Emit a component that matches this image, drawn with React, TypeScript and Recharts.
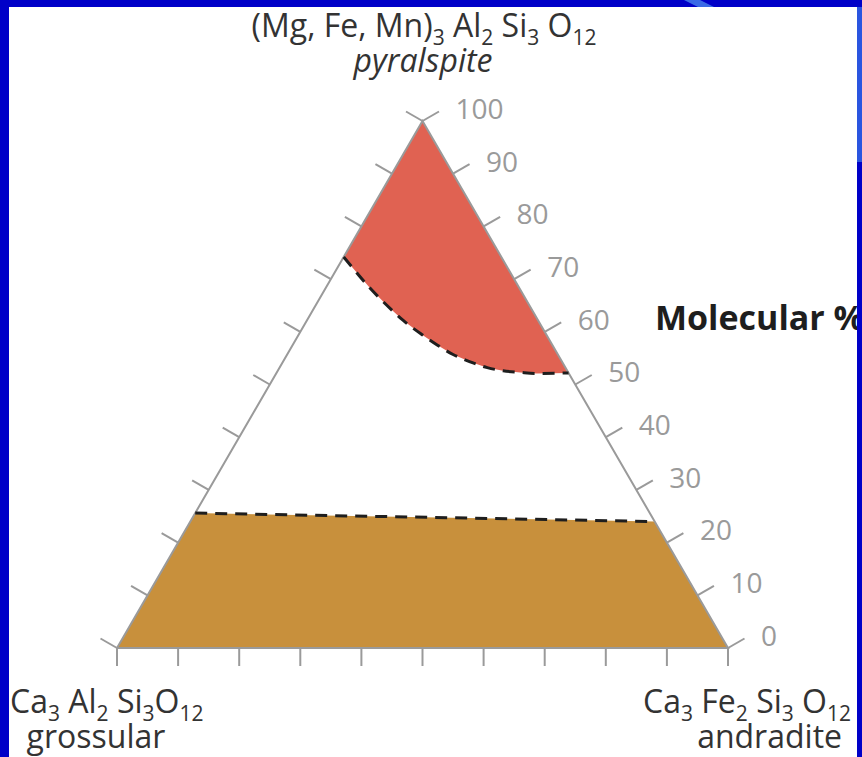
import { ComposedChart, XAxis, YAxis, Area, Line, Scatter } from 'recharts';

// ternary garnet diagram, x = position along the base (%), y = pyralspite mol %
const molecularTicks = [0, 10, 20, 30, 40, 50, 60, 70, 80, 90, 100];
const baseTicks = [0, 10, 20, 30, 40, 50, 60, 70, 80, 90, 100];

// pyralspite field, lower (dashed) boundary
const pyrCurveBase = [37.1, 38.6, 41.4, 44.2, 46.8, 50, 52.4, 55.0, 57.8, 60.6, 63.2, 66.0, 68.7, 73.9];
const pyrCurvePct = [74.2, 72.1, 68.3, 65.0, 62.2, 59.4, 57.5, 55.7, 54.3, 53.2, 52.6, 52.3, 52.1, 52.2];

// ugrandite band (grossular - andradite), top edge is dashed
const bandBase = [0, 12.8, 88.0, 100];
const bandPct = [0, 25.6, 24.0, 0];

const W = 862;
const H = 757;
const GRAY = '#9a9a9a';
const FONT = '"Open Sans", "DejaVu Sans", sans-serif';

const edge = (x: number) => (x <= 50 ? 2 * x : 2 * (100 - x));

const outline = [
  { x: 0, y: 0 },
  { x: 50, y: 100 },
  { x: 100, y: 0 },
  { x: 0, y: 0 },
];
const pyrField = pyrCurveBase.map((x, i) => ({ x, range: [pyrCurvePct[i], edge(x)], y: pyrCurvePct[i] }));
const band = bandBase.map((x, i) => ({ x, y: bandPct[i] }));
const bandTop = band.slice(1, 3);

const rightTicks = molecularTicks.map(p => ({ x: 100 - p / 2, y: p, label: p }));
const leftTicks = molecularTicks.map(p => ({ x: p / 2, y: p }));
const bottomTicks = baseTicks.map(x => ({ x, y: 0 }));

const RightTick = (p: any) => (
  <g>
    <line x1={p.cx} y1={p.cy} x2={p.cx + 16.5} y2={p.cy - 9.5} stroke={GRAY} strokeWidth={2} />
    <text x={p.cx + 33} y={p.cy - 12} dy="0.35em" fontSize={28} fill={GRAY} fontFamily={FONT}>
      {p.payload.label}
    </text>
  </g>
);
const LeftTick = (p: any) => (
  <line x1={p.cx} y1={p.cy} x2={p.cx - 16.5} y2={p.cy - 9.5} stroke={GRAY} strokeWidth={2} />
);
const BottomTick = (p: any) => (
  <line x1={p.cx} y1={p.cy} x2={p.cx} y2={p.cy + 18} stroke={GRAY} strokeWidth={2} />
);

// formula pieces: plain text and subscripts
type Piece = [string, boolean?];
const formula = (pieces: Piece[]) => {
  let down = false;
  return pieces.map(([t, isSub], i) => {
    const dy = isSub ? (down ? 0 : 8) : down ? -8 : 0;
    down = !!isSub;
    return (
      <tspan key={i} dy={dy} fontSize={isSub ? 21 : 32}>
        {t}
      </tspan>
    );
  });
};

export default function App() {
  return (
    <div style={{ position: 'fixed', left: 0, top: 0, width: W, height: H, background: '#ffffff', overflow: 'hidden' }}>
      <ComposedChart
        width={W}
        height={H}
        margin={{ top: 121, right: 134, bottom: 109, left: 117 }}
        style={{ position: 'absolute', left: 0, top: 0 }}
      >
        <XAxis type="number" dataKey="x" domain={[0, 100]} hide />
        <YAxis type="number" domain={[0, 100]} hide />
        <Area data={band} dataKey="y" type="linear" fill="#c8903c" fillOpacity={1} stroke="none" isAnimationActive={false} />
        <Area data={pyrField} dataKey="range" type="linear" fill="#e06252" fillOpacity={1} stroke="none" isAnimationActive={false} />
        <Line data={outline} dataKey="y" type="linear" stroke={GRAY} strokeWidth={2} dot={false} isAnimationActive={false} />
        <Line data={bandTop} dataKey="y" type="linear" stroke="#1e1e1e" strokeWidth={3} strokeDasharray="12 8" dot={false} isAnimationActive={false} />
        <Line data={pyrField} dataKey="y" type="monotone" stroke="#1e1e1e" strokeWidth={3} strokeDasharray="12 8" dot={false} isAnimationActive={false} />
        <Scatter data={rightTicks} dataKey="y" shape={RightTick} isAnimationActive={false} />
        <Scatter data={leftTicks} dataKey="y" shape={LeftTick} isAnimationActive={false} />
        <Scatter data={bottomTicks} dataKey="y" shape={BottomTick} isAnimationActive={false} />
      </ComposedChart>
      <svg width={W} height={H} style={{ position: 'absolute', left: 0, top: 0, pointerEvents: 'none' }}>
        <g fontFamily={FONT} fill="#333333">
          <text x={424} y={37} textAnchor="middle">
            {formula([['(Mg, Fe, Mn)'], ['3', true], [' Al'], ['2', true], [' Si'], ['3', true], [' O'], ['12', true]])}
          </text>
          <text x={423} y={72} textAnchor="middle" fontSize={32} fontStyle="italic">pyralspite</text>
          <text x={655} y={330} fontSize={34} fontWeight="bold" fill="#1e1e1e">Molecular %</text>
          <text x={10} y={713}>
            {formula([['Ca'], ['3', true], [' Al'], ['2', true], [' Si'], ['3', true], ['O'], ['12', true]])}
          </text>
          <text x={96} y={748} textAnchor="middle" fontSize={32}>grossular</text>
          <text x={851} y={713} textAnchor="end">
            {formula([['Ca'], ['3', true], [' Fe'], ['2', true], [' Si'], ['3', true], [' O'], ['12', true]])}
          </text>
          <text x={842} y={748} textAnchor="end" fontSize={32}>andradite</text>
        </g>
        <rect x={0} y={0} width={W} height={7} fill="#0000c8" />
        <rect x={0} y={0} width={9} height={H} fill="#0000c8" />
        <rect x={857} y={0} width={5} height={H} fill="#0000c8" />
        <rect x={857} y={7} width={5} height={155} fill="#2a55e0" />
        <polygon points="684,0 700,0 714,7 698,7" fill="#3a6ae6" />
      </svg>
    </div>
  );
}
